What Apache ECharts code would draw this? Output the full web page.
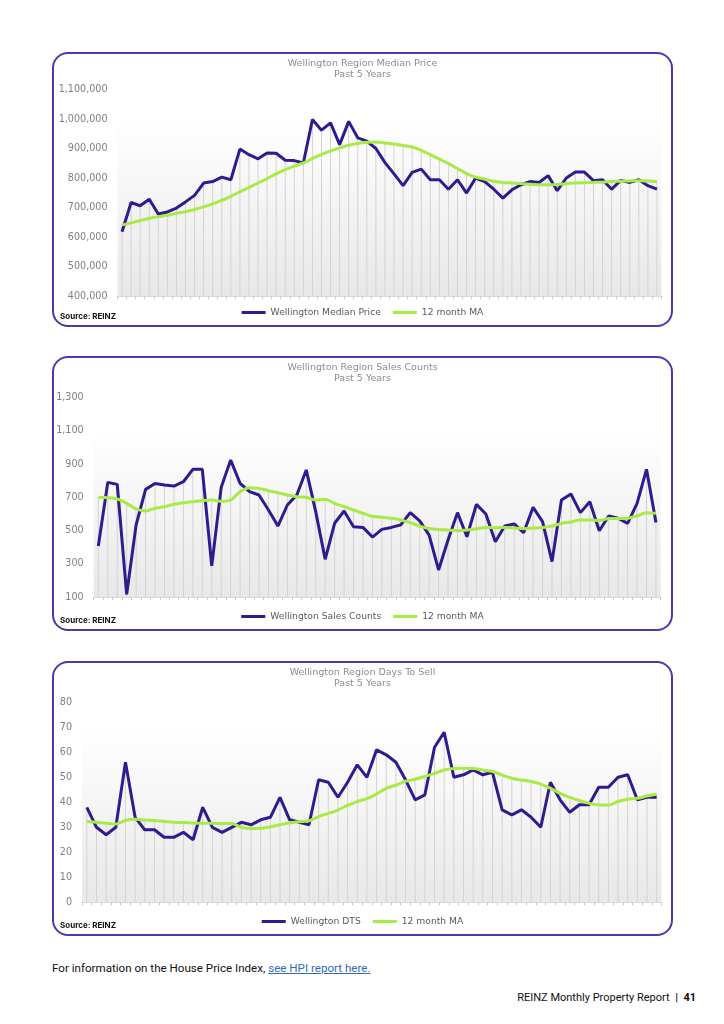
<!DOCTYPE html>
<html><head><meta charset="utf-8">
<script src="https://cdn.jsdelivr.net/npm/echarts@6/dist/echarts.min.js"></script>
<style>
html,body{margin:0;padding:0;background:#fff;width:724px;height:1024px;overflow:hidden;position:relative}
.chart{position:absolute;left:52px;width:621px;height:275px}
.box{position:absolute;left:52px;width:621px;height:275px;border:2px solid #4a3aab;border-radius:16px;box-sizing:border-box;pointer-events:none}
#foot1{position:absolute;left:52px;top:961px;font-family:Roboto,sans-serif;font-size:11.6px;color:#111;white-space:nowrap}
#foot1 a{color:#2f6ac0;text-decoration:underline}
#foot2{position:absolute;right:28px;top:991px;font-family:Roboto,sans-serif;font-size:11px;color:#111;white-space:nowrap}
</style></head>
<body>
<div id="c1" class="chart" style="top:52px"></div>
<div class="box" style="top:52px"></div>
<div id="c2" class="chart" style="top:356px"></div>
<div class="box" style="top:356px"></div>
<div id="c3" class="chart" style="top:661px"></div>
<div class="box" style="top:661px"></div>
<div id="foot1">For information on the House Price Index, <a>see HPI report here.</a></div>
<div id="foot2">REINZ Monthly Property Report &nbsp;<b>|</b>&nbsp; <b>41</b></div>
<script>
// ---- categories (monthly, 5 years) ----
const monthNames = ['Jan','Feb','Mar','Apr','May','Jun','Jul','Aug','Sep','Oct','Nov','Dec'];
const yearLabels = ['20','21','22','23','24'];
const categories = [];
yearLabels.forEach(y => monthNames.forEach(m => categories.push(m + '-' + y)));

// ---- Median price ----
const medianPrice = [618000,717000,706000,728000,678000,685000,698000,719000,741000,783000,
  788000,803000,794000,898000,879000,865000,885000,884000,860000,859000,
  851000,998000,962000,987000,913000,992000,936000,925000,900000,852000,
  814000,774000,819000,830000,794000,794000,762000,794000,749000,800000,
  788000,762000,732000,760000,777000,788000,785000,808000,757000,800000,
  820000,820000,791000,794000,762000,792000,785000,794000,774000,762000];
const medianPriceMA = [641000,648000,656000,663000,669000,674000,680000,686000,693000,702000,
  712000,724000,738000,753000,768000,783000,798000,814000,828000,840000,
  851000,866000,880000,892000,902000,911000,917000,921000,922000,919000,
  915000,910000,905000,894000,879000,864000,849000,832000,815000,803000,
  796000,789000,785000,783000,781000,779000,777000,777000,778000,781000,
  783000,784000,785000,786000,788000,789000,790000,791000,790000,788000];

// ---- Sales counts ----
const salesCounts = [407,790,778,116,534,748,784,774,768,794,
  869,869,287,760,925,784,734,714,624,527,
  654,714,865,614,327,544,618,523,519,461,
  507,519,534,608,558,473,263,443,608,463,
  658,600,433,527,540,487,640,554,313,684,
  720,608,674,499,588,574,543,664,869,548];
const salesCountsMA = [700,698,690,664,630,618,634,644,658,668,
  674,680,684,676,684,734,758,754,740,728,
  714,704,700,684,688,664,644,624,604,586,
  580,574,564,548,527,513,507,503,499,503,
  511,519,517,519,515,511,515,519,527,543,
  552,564,564,560,572,572,574,588,608,604];

// ---- Days to sell ----
const daysToSell = [38,30,27,30,56,34,29,29,26,26,
  28,25,38,30,28,30,32,31,33,34,
  42,33,32,31,49,48,42,48,55,50,
  61,59,56,49,41,43,62,68,50,51,
  53,51,52,37,35,37,34,30,48,41,
  36,39,39,46,46,50,51,41,42,42];
const daysToSellMA = [32.3,32.0,31.6,31.3,32.7,33.2,32.9,32.7,32.3,32.0,
  31.9,31.7,31.6,31.6,31.5,31.5,30.0,29.5,29.6,30.2,
  31.0,31.8,32.2,32.6,34.3,35.6,36.9,38.8,40.3,41.5,
  43.3,45.6,46.9,48.4,49.2,50.3,51.6,52.9,53.5,53.6,
  53.5,52.9,52.3,50.9,49.6,48.9,48.3,47.3,45.6,43.6,
  42.0,40.7,39.6,38.9,38.9,40.3,41.2,41.6,42.5,43.3];

const PURPLE = '#2e1b8f';
const GREEN = '#a8ea46';
const FONT = '"DejaVu Sans", sans-serif';

function build(cfg){
  const drop = cfg.main.map((v,i)=>Math.max(v, cfg.ma[i]));
  return {
    animation:false,
    title:{text:cfg.title, left:'center', top:6, padding:0,
      textStyle:{fontSize:9.5, fontWeight:'normal', color:'#8c8c8c', fontFamily:FONT, lineHeight:10.7}},
    grid:cfg.grid,
    legend:{data:[cfg.mainName, cfg.maName], bottom:5, left:'center', icon:'rect',
      itemWidth:24, itemHeight:3, itemGap:12,
      textStyle:{fontSize:9.2, color:'#595959', fontFamily:FONT}},
    graphic:[{type:'text', left:8, bottom:6,
      style:{text:'Source: REINZ', fontSize:8, fontWeight:'bold', fill:'#111', fontFamily:'Inter, sans-serif'}}],
    xAxis:{type:'category', data:categories, boundaryGap:true,
      axisLabel:{show:false},
      axisLine:{lineStyle:{color:'#d9d9d9'}},
      axisTick:{show:true, interval:0, length:3, lineStyle:{color:'#c8c8c8'}},
      splitLine:{show:false}},
    yAxis:{type:'value', min:cfg.min, max:cfg.max, interval:cfg.interval,
      axisLine:{show:false}, axisTick:{show:false}, splitLine:{show:false},
      axisLabel:{margin:10, fontSize:9.6, color:'#7f7f7f', fontFamily:FONT,
        formatter:v=>Number(v).toLocaleString('en-US')}},
    series:[
      {type:'bar', data:drop, barWidth:1, silent:true, z:1,
        itemStyle:{color:'#d3d3d3'},
        markArea:{silent:true, z:0, itemStyle:{color:{type:'linear',x:0,y:0,x2:0,y2:1,
          colorStops:[{offset:0,color:'#ffffff'},{offset:1,color:'#e8e8e8'}]}},
          data:[[{yAxis:cfg.gradTop},{yAxis:cfg.min}]]}},
      {type:'line', name:cfg.mainName, data:cfg.main, symbol:'none', z:3,
        lineStyle:{color:PURPLE, width:3}, itemStyle:{color:PURPLE}},
      {type:'line', name:cfg.maName, data:cfg.ma, symbol:'none', smooth:0.3, z:4,
        lineStyle:{color:GREEN, width:3}, itemStyle:{color:GREEN}}
    ]
  };
}

echarts.init(document.getElementById('c1')).setOption(build({
  title:'Wellington Region Median Price\nPast 5 Years',
  main:medianPrice, ma:medianPriceMA,
  mainName:'Wellington Median Price', maName:'12 month MA',
  min:400000, max:1100000, interval:100000, gradTop:1000000,
  grid:{left:65.5, right:11.5, top:37.5, bottom:31}
}));
echarts.init(document.getElementById('c2')).setOption(build({
  title:'Wellington Region Sales Counts\nPast 5 Years',
  main:salesCounts, ma:salesCountsMA,
  mainName:'Wellington Sales Counts', maName:'12 month MA',
  min:100, max:1300, interval:200, gradTop:1100,
  grid:{left:41.6, right:12.3, top:41.7, bottom:34}
}));
echarts.init(document.getElementById('c3')).setOption(build({
  title:'Wellington Region Days To Sell\nPast 5 Years',
  main:daysToSell, ma:daysToSellMA,
  mainName:'Wellington DTS', maName:'12 month MA',
  min:0, max:80, interval:10, gradTop:70,
  grid:{left:30, right:11.5, top:41.3, bottom:33.7}
}));
</script>
</body></html>
